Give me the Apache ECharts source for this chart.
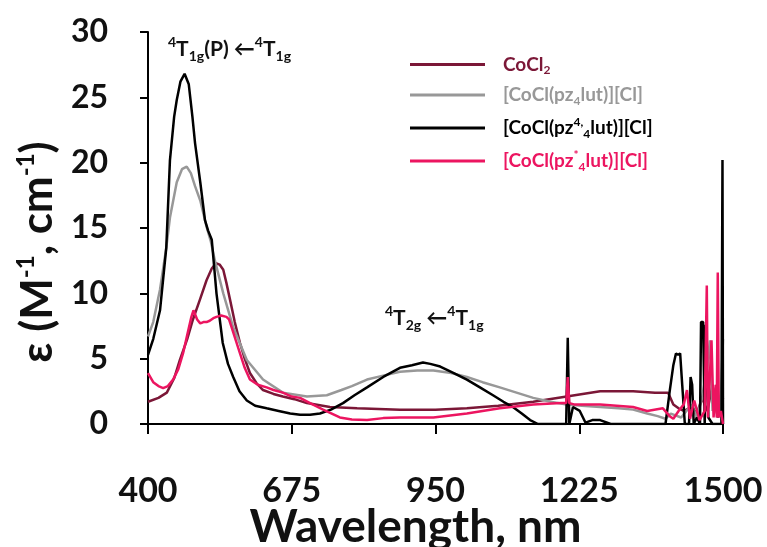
<!DOCTYPE html>
<html>
<head>
<meta charset="utf-8">
<script src="https://cdn.jsdelivr.net/npm/echarts@6/dist/echarts.min.js"></script>
<style>html,body{margin:0;padding:0;background:#fff}#c{width:767px;height:547px}</style>
</head>
<body>
<div id="c"></div>
<script>
// ---- data ----
const xTicks = [400, 675, 950, 1225, 1500];
const yTicks = [0, 5, 10, 15, 20, 25, 30];
const seriesNames = ['CoCl2', '[CoCl(pz4lut)][Cl]', '[CoCl(pz4,4lut)][Cl]', '[CoCl(pz*4lut)][Cl]'];

const cocl2Wl = [400, 420, 436, 450, 461, 475, 486, 500, 512, 522, 530, 537, 544, 550, 557, 566, 576, 585, 595, 608, 620, 640, 658, 680, 704, 748, 800, 882, 950, 1010, 1070, 1137, 1201, 1265, 1328, 1370, 1395, 1405, 1415, 1425, 1440, 1450, 1460, 1470, 1480, 1490, 1500];
const cocl2Eps = [1.7, 2.0, 2.4, 3.5, 4.9, 6.5, 8.0, 9.6, 11.0, 11.9, 12.3, 12.2, 11.8, 10.8, 9.5, 7.8, 6.2, 5.0, 3.9, 3.1, 2.6, 2.3, 2.1, 1.9, 1.6, 1.3, 1.2, 1.1, 1.1, 1.2, 1.4, 1.7, 2.1, 2.5, 2.5, 2.4, 2.4, 1.5, 1.2, 1.0, 1.3, 0.8, 2.0, 1.0, 3.0, 0.5, 2.0];

const pz4Wl = [400, 410, 423, 435, 442, 455, 465, 474, 482, 490, 500, 512, 520, 528, 544, 563, 589, 620, 658, 704, 742, 770, 790, 819, 850, 882, 915, 946, 980, 1010, 1040, 1073, 1105, 1137, 1170, 1201, 1230, 1265, 1300, 1328, 1355, 1375, 1390, 1400, 1420, 1440, 1450, 1460, 1470, 1475, 1480, 1488, 1495, 1500];
const pz4Eps = [6.7, 7.8, 10.3, 13.5, 15.8, 18.5, 19.5, 19.7, 19.2, 18.2, 17.1, 15.1, 14.0, 12.5, 10.0, 7.4, 4.9, 3.4, 2.4, 2.1, 2.2, 2.6, 2.9, 3.4, 3.7, 4.0, 4.1, 4.1, 3.9, 3.6, 3.2, 2.8, 2.4, 2.0, 1.7, 1.5, 1.4, 1.3, 1.2, 1.1, 0.8, 0.6, 0.4, 0.8, 0.5, 1.5, 0.5, 2.0, 4.5, 6.4, 1.0, 3.0, 1.0, 6.5];

const pz44Wl = [400, 410, 423, 435, 442, 450, 455, 462, 470, 478, 485, 490, 500, 509, 515, 522, 531, 543, 553, 563, 575, 589, 605, 627, 650, 672, 691, 710, 729, 750, 773, 795, 819, 850, 882, 905, 926, 940, 959, 985, 1010, 1035, 1060, 1080, 1098, 1115, 1131, 1146, 1170, 1200, 1203, 1206, 1213, 1226, 1237, 1250, 1265, 1285, 1320, 1360, 1390, 1398, 1405, 1410, 1414, 1418, 1422, 1427, 1435, 1438, 1441, 1444, 1450, 1456, 1458, 1462, 1465, 1467, 1472, 1480, 1490, 1497, 1499, 1500];
const pz44Eps = [5.3, 6.5, 8.7, 13.5, 20.2, 23.5, 24.8, 26.2, 26.8, 26.0, 23.5, 21.5, 18.5, 15.6, 14.8, 14.1, 10.0, 6.2, 4.6, 3.6, 2.5, 1.8, 1.4, 1.2, 1.0, 0.8, 0.7, 0.7, 0.8, 1.1, 1.6, 2.2, 2.8, 3.6, 4.3, 4.5, 4.7, 4.6, 4.4, 3.9, 3.4, 2.8, 2.2, 1.7, 1.3, 0.8, 0.3, 0, 0, 0, 6.6, 0, 1.3, 1.0, 0.1, 0.3, 0.3, 0, 0, 0, 0, 2.5, 4.5, 5.4, 5.3, 5.4, 3.0, 0, 0, 3.6, 3.0, 0, 0.5, 0, 7.8, 7.8, 0, 7.6, 0.5, 0, 0, 0, 20.2, 0];

const pzStarWl = [400, 410, 420, 429, 438, 448, 458, 467, 475, 483, 487, 490, 494, 500, 506, 512, 518, 525, 531, 540, 550, 555, 560, 568, 576, 585, 595, 610, 627, 640, 658, 675, 691, 710, 735, 767, 790, 819, 850, 882, 946, 1010, 1073, 1137, 1190, 1200, 1203, 1206, 1215, 1265, 1328, 1355, 1385, 1398, 1405, 1415, 1425, 1431, 1437, 1445, 1455, 1465, 1469, 1471, 1473, 1478, 1482, 1486, 1488, 1490, 1492, 1496, 1500];
const pzStarEps = [3.9, 3.2, 2.9, 2.75, 2.9, 3.4, 4.2, 5.4, 6.8, 8.2, 8.7, 8.8, 8.0, 7.7, 7.8, 7.8, 7.9, 8.1, 8.2, 8.3, 8.2, 8.0, 7.4, 6.4, 5.4, 4.3, 3.4, 3.0, 2.8, 2.6, 2.4, 2.1, 2.0, 1.6, 1.1, 0.5, 0.35, 0.3, 0.45, 0.5, 0.5, 0.8, 1.2, 1.5, 1.6, 1.6, 3.6, 1.6, 1.5, 1.5, 1.3, 1.0, 1.2, 0.6, 0.4, 1.0, 1.5, 2.6, 0.4, 1.8, 0.3, 1.0, 10.6, 0.5, 2.0, 6.4, 0.5, 3.0, 0.5, 11.6, 0.5, 1.0, 0];

const colors = ['#7b1737', '#989898', '#000000', '#ec1560'];
// ---- end data ----

const FONT = 'Lato';
function pairs(xs, ys) { return xs.map((x, i) => [x, ys[i]]); }
const seriesData = [pairs(cocl2Wl, cocl2Eps), pairs(pz4Wl, pz4Eps), pairs(pz44Wl, pz44Eps), pairs(pzStarWl, pzStarEps)];

const legendRich = {
  n: { fontSize: 19, fontWeight: 'bold', fontFamily: FONT, lineHeight: 24, verticalAlign: 'middle' },
  sub: { fontSize: 12, fontWeight: 'bold', fontFamily: FONT, lineHeight: 13, verticalAlign: 'bottom' },
  sup: { fontSize: 12, fontWeight: 'bold', fontFamily: FONT, lineHeight: 13, verticalAlign: 'top' }
};
const legendLabel = {
  'CoCl2': '{n|CoCl}{sub|2}',
  '[CoCl(pz4lut)][Cl]': '{n|[CoCl(pz}{sub|4}{n|lut)][Cl]}',
  '[CoCl(pz4,4lut)][Cl]': '{n|[CoCl(pz}{sup|4,}{sub|4}{n|lut)][Cl]}',
  '[CoCl(pz*4lut)][Cl]': '{n|[CoCl(pz}{sup|*}{sub|4}{n|lut)][Cl]}'
};

const annRich = {
  n: { fontSize: 21, fontWeight: 'bold', fontFamily: FONT, lineHeight: 28, verticalAlign: 'middle', fill: '#111' },
  sub: { fontSize: 14, fontWeight: 'bold', fontFamily: FONT, lineHeight: 16, verticalAlign: 'bottom', fill: '#111' },
  sup: { fontSize: 14, fontWeight: 'bold', fontFamily: FONT, lineHeight: 16, verticalAlign: 'top', fill: '#111' }
};

const chart = echarts.init(document.getElementById('c'), null, { renderer: 'canvas' });
chart.setOption({
  animation: false,
  backgroundColor: '#fff',
  grid: { left: 148, right: 44, top: 32, bottom: 123, containLabel: false, outerBoundsMode: 'none' },
  xAxis: {
    type: 'value', min: xTicks[0], max: xTicks[xTicks.length - 1], interval: 275,
    name: 'Wavelength, nm', nameLocation: 'middle', nameGap: 80, nameMoveOverlap: false,
    nameTextStyle: { fontFamily: FONT, fontWeight: 'bold', fontSize: 46, color: '#111', padding: [0, 40, 0, 0] },
    axisLine: { onZero: false, lineStyle: { color: '#000', width: 2 } },
    axisTick: { show: true, length: 10, inside: false, lineStyle: { color: '#000', width: 2 } },
    axisLabel: { margin: 50, fontFamily: FONT, fontWeight: 'bold', fontSize: 34, color: '#111', formatter: v => String(v) },
    splitLine: { show: false }
  },
  yAxis: {
    type: 'value', min: yTicks[0], max: yTicks[yTicks.length - 1], interval: 5,
    name: '{a|ε (M}{s|-1}{a|, cm}{s|-1}{a|)}', nameLocation: 'middle', nameGap: 86, nameMoveOverlap: false,
    nameTextStyle: {
      padding: [0, 48, 0, 0],
      rich: {
        a: { fontFamily: FONT, fontWeight: 'bold', fontSize: 44, color: '#111', lineHeight: 48, verticalAlign: 'middle' },
        s: { fontFamily: FONT, fontWeight: 'bold', fontSize: 24, color: '#111', lineHeight: 26, verticalAlign: 'top' }
      }
    },
    axisLine: { show: true, lineStyle: { color: '#000', width: 2 } },
    axisTick: { show: true, length: 8, lineStyle: { color: '#000', width: 2 } },
    axisLabel: { margin: 40, fontFamily: FONT, fontWeight: 'bold', fontSize: 32, color: '#111', formatter: v => String(v) },
    splitLine: { show: false }
  },
  legend: {
    orient: 'vertical', left: 405, top: 50, itemGap: 9,
    itemWidth: 75, itemHeight: 3, icon: 'rect',
    textStyle: { padding: [0, 0, 0, 13], rich: legendRich },
    formatter: name => legendLabel[name],
    data: seriesNames.map((n, i) => ({ name: n, textStyle: { color: colors[i] } }))
  },
  graphic: [
    { type: 'text', left: 168, top: 35, style: { text: '{sup|4}{n|T}{sub|1g}{n|(P) ←}{sup|4}{n|T}{sub|1g}', rich: annRich } },
    { type: 'text', left: 385, top: 304, style: { text: '{sup|4}{n|T}{sub|2g}{n| ←}{sup|4}{n|T}{sub|1g}', rich: annRich } }
  ],
  series: seriesNames.map((n, i) => ({
    name: n, type: 'line', data: seriesData[i], showSymbol: false, symbol: 'none',
    lineStyle: { color: colors[i], width: 2.5 }, itemStyle: { color: colors[i] },
    z: 2 + i
  }))
});
</script>
</body>
</html>
